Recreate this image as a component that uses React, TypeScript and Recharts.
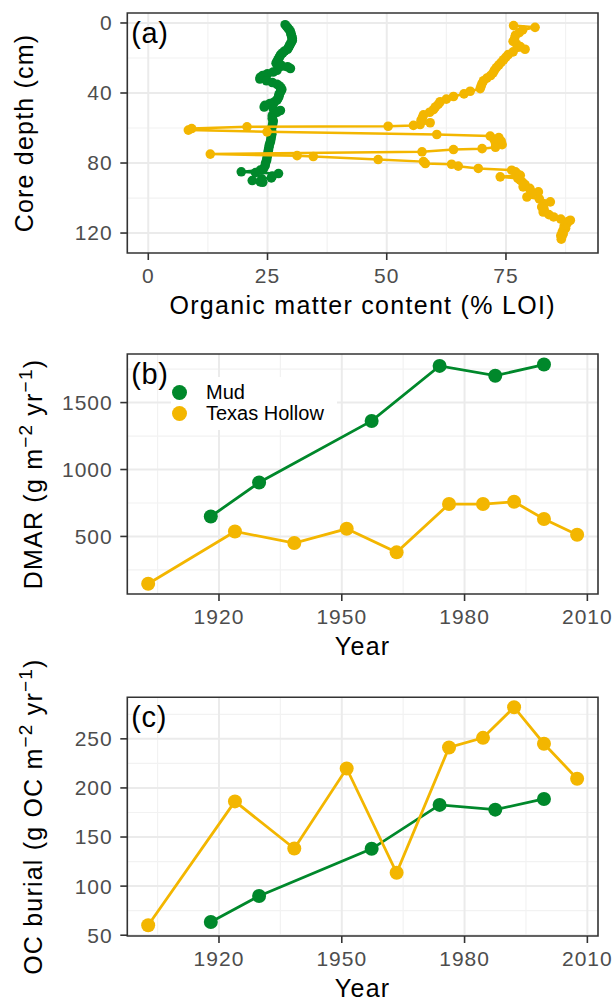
import React from 'react';
import {
  ScatterChart,
  Scatter,
  XAxis,
  YAxis,
  CartesianGrid,
  ReferenceArea,
  Legend,
} from 'recharts';

const GREEN = '#00882b';
const GOLD = '#f3b600';
const FONT = '"Liberation Sans", Arial, Helvetica, sans-serif';

// (a) loss-on-ignition profiles down each core
const mudDepth = [
  1, 2, 3, 4, 5, 6, 7, 8, 9, 10, 11, 12, 13, 14, 15, 16, 17, 18, 19, 20, 21, 22, 23, 24, 25, 26, 27, 28,
  29, 30, 31, 32, 33, 34, 35, 36, 37, 38, 39, 40, 41, 42, 43, 44, 45, 46, 47, 48, 49, 50, 51, 52, 53,
  54.5, 56, 57.5, 59, 60.5, 62, 63.5, 65, 66.5, 68, 69.5, 71, 72.5, 74, 75.5, 77, 78.5, 80, 81.5, 83,
  84, 85, 85.5, 86, 87.5, 88.5, 89, 90, 90.8, 91,
];
const mudLoi = [
  28.7, 29.0, 29.3, 29.6, 29.8, 29.9, 30.0, 30.1, 30.2, 30.2, 30.0, 29.8, 29.6, 29.4, 29.2, 28.6, 28.2,
  27.8, 27.6, 27.4, 27.2, 27.0, 26.8, 27.8, 29.2, 29.8, 27.0, 26.2, 25.0, 24.0, 23.5, 23.4, 24.8, 26.0,
  27.0, 27.5, 27.8, 28.0, 27.8, 27.6, 27.4, 27.4, 27.2, 27.0, 26.5, 25.5, 24.5, 24.3, 26.2, 27.7, 27.0,
  26.3, 26.0, 26.0, 26.2, 26.1, 26.0, 25.8, 25.9, 25.9, 25.8, 25.7, 25.6, 25.4, 25.3, 25.2, 25.1, 25.0,
  24.9, 24.8, 24.6, 24.5, 24.2, 23.5, 19.5, 22.5, 27.3, 26.0, 25.8, 23.8, 21.8, 23.5, 24.0,
];
const texasDepth = [
  1.5, 2.5, 4, 5.5, 7, 9, 10.5, 12, 13.5, 15, 16.5, 18, 19.5, 21, 22.5, 24, 25.5, 27, 28.5, 30, 31.5,
  33, 34.5, 36, 37.5, 39, 40.5, 42, 43.5, 45, 46.5, 48, 49.5, 51, 52.5, 54, 55.5, 57, 58, 58.5, 59,
  59.3, 60.3, 61.2, 62.2, 63.7, 64.6, 65.5, 66.5, 67.5, 68.5, 69.5, 71, 71.8, 72.3, 73.6, 74.9, 75.8,
  76.3, 78, 79.2, 80.3, 80.7, 81.8, 83.1, 84.1, 85, 86, 87, 87.9, 88.8, 89.8, 91, 92.3, 93.6, 94.5,
  95.5, 96.5, 97.5, 99.4, 100.5, 102.2, 103.5, 105.1, 106.5, 108, 109.5, 110.8, 112, 112.7, 113.5,
  114.6, 116, 117.3, 118.4, 119.5, 120.5, 121.5, 122.3, 123.5,
];
const texasLoi = [
  76.6, 81.1, 78.5, 77.8, 77.0, 76.8, 76.5, 77.2, 78.0, 79.0, 76.5, 75.5, 75.0, 74.5, 74.0, 73.5, 73.0,
  72.6, 72.3, 71.8, 71.0, 70.3, 70.0, 69.8, 69.6, 67.5, 66.2, 64.0, 62.5, 61.2, 60.8, 60.2, 59.8, 59.0,
  57.7, 57.5, 57.2, 59.1, 57.0, 55.6, 50.3, 20.7, 9.1, 8.4, 24.9, 60.5, 71.7, 73.5, 72.5, 74.0, 72.8,
  74.2, 72.8, 70.0, 64.0, 57.4, 13.0, 31.2, 34.6, 48.2, 57.7, 58.1, 63.6, 65.0, 69.2, 76.2, 77.0, 77.3,
  78.0, 73.8, 77.5, 78.0, 78.5, 79.0, 78.6, 80.0, 80.1, 81.8, 80.5, 79.4, 82.0, 84.3, 83.0, 82.5, 83.0,
  82.8, 84.0, 85.0, 86.5, 88.5, 88.0, 87.8, 87.2, 87.5, 87.0, 86.8, 87.0, 86.5, 86.7, 86.6,
];

// (b) and (c) dated intervals
const mudYears = [1918, 1929.8, 1957.3, 1973.9, 1987.5, 1999.4];
const mudDmar = [649, 903, 1363, 1774, 1701, 1784];
const mudOcBurial = [63.5, 89.9, 138, 182.7, 177.9, 188.8];
const texasYears = [1902.7, 1923.9, 1938.4, 1951.2, 1963.4, 1976.2, 1984.5, 1992.1, 1999.4, 2007.5];
const texasDmar = [147, 537, 451, 557, 381, 742, 742, 759, 630, 513];
const texasOcBurial = [60.2, 186.3, 138.3, 219.8, 113.6, 241.2, 251, 282.2, 245, 209.4];

const loiTicks = [0, 25, 50, 75];
const loiMinor = [12.5, 37.5, 62.5, 87.5];
const depthTicks = [0, 40, 80, 120];
const depthMinor = [20, 60, 100];
const yearTicks = [1920, 1950, 1980, 2010];
const yearMinor = [1905, 1935, 1965, 1995];
const dmarTicks = [500, 1000, 1500];
const dmarMinor = [250, 750, 1250, 1750];
const ocTicks = [50, 100, 150, 200, 250];
const ocMinor = [75, 125, 175, 225, 275];

const pairs = (xs: number[], ys: number[]) => xs.map((x, i) => ({ x, y: ys[i] }));

const mudProfile = pairs(mudLoi, mudDepth);
const texasProfile = pairs(texasLoi, texasDepth);
const mudDmarRows = pairs(mudYears, mudDmar);
const texasDmarRows = pairs(texasYears, texasDmar);
const mudOcRows = pairs(mudYears, mudOcBurial);
const texasOcRows = pairs(texasYears, texasOcBurial);

const tickStyle = { fill: '#4d4d4d', fontSize: 21, fontFamily: FONT, letterSpacing: 1 };
const tickLine = { stroke: '#333', strokeWidth: 1.6 };

const dot = (r: number, color: string) => (p: any) => (
  <circle cx={p.cx} cy={p.cy} r={r} fill={color} stroke="none" />
);

function XTitle({ viewBox, text }: any) {
  const { x, y, width } = viewBox;
  return (
    <text x={x + width / 2} y={y + 61} textAnchor="middle" fontSize={25} fontFamily={FONT} letterSpacing={1.3} fill="#000">
      {text}
    </text>
  );
}

function YTitle({ viewBox, baseX, children }: any) {
  const cy = viewBox.y + viewBox.height / 2;
  return (
    <text
      x={baseX}
      y={cy}
      transform={`rotate(-90, ${baseX}, ${cy})`}
      textAnchor="middle"
      fontSize={25}
      fontFamily={FONT}
      letterSpacing={1.2}
      fill="#000"
    >
      {children}
    </text>
  );
}

function PanelTag({ viewBox, text }: any) {
  return (
    <text x={viewBox.x + 4} y={viewBox.y + 30} fontSize={29} fontFamily={FONT} letterSpacing={0.6} fill="#000">
      {text}
    </text>
  );
}

function Grid({ xMajor, xMinor, yMajor, yMinor }: any) {
  return (
    <>
      <CartesianGrid stroke="#f2f2f2" strokeWidth={1.2} verticalValues={xMinor} horizontalValues={yMinor} />
      <CartesianGrid stroke="#ebebeb" strokeWidth={2} verticalValues={xMajor} horizontalValues={yMajor} />
    </>
  );
}

const renderLegend = (props: any) => (
  <div style={{ position: 'relative', width: 166, height: 53, background: '#fff', fontFamily: FONT }}>
    {(props.payload || []).map((entry: any, i: number) => (
      <div
        key={entry.value}
        style={{ position: 'absolute', left: 0, top: 4.5 + i * 21, height: 21, display: 'flex', alignItems: 'center' }}
      >
        <span
          style={{ display: 'inline-block', width: 15, height: 15, marginLeft: 0.5, borderRadius: '50%', background: entry.color }}
        />
        <span style={{ marginLeft: 19.5, fontSize: 20, color: '#000', whiteSpace: 'nowrap' }}>{entry.value}</span>
      </div>
    ))}
  </div>
);

const LOI_DOMAIN: [number, number] = [-4.4, 94.3];
const DEPTH_DOMAIN: [number, number] = [-5.7, 131.4];
const YEAR_DOMAIN: [number, number] = [1897.6, 2012.6];
const DMAR_DOMAIN: [number, number] = [70, 1863];
const OC_DOMAIN: [number, number] = [49.2, 292.3];

export default function App() {
  return (
    <div style={{ position: 'absolute', left: 0, top: 0, width: 614, height: 1001, background: '#fff', fontFamily: FONT }}>
      {/* (a) organic matter profiles */}
      <div style={{ position: 'absolute', left: 0, top: 0 }}>
        <ScatterChart width={614} height={330} margin={{ top: 13, right: 16, bottom: 0, left: 0 }}>
          <Grid xMajor={loiTicks} xMinor={loiMinor} yMajor={depthTicks} yMinor={depthMinor} />
          <XAxis
            type="number"
            dataKey="x"
            domain={LOI_DOMAIN}
            ticks={loiTicks}
            interval={0}
            allowDataOverflow
            axisLine={false}
            tickLine={tickLine}
            tickSize={7}
            tickMargin={8.5}
            tick={tickStyle}
            height={77}
            label={<XTitle text="Organic matter content (% LOI)" />}
          />
          <YAxis
            type="number"
            dataKey="y"
            reversed
            domain={DEPTH_DOMAIN}
            ticks={depthTicks}
            interval={0}
            allowDataOverflow
            axisLine={false}
            tickLine={tickLine}
            tickSize={7}
            tickMargin={7.6}
            tick={tickStyle}
            width={127.3}
            label={<YTitle baseX={33}>Core depth (cm)</YTitle>}
          />
          <Scatter name="Mud" data={mudProfile} fill={GREEN} line={{ stroke: GREEN, strokeWidth: 2.5 }} lineType="joint" shape={dot(4.8, GREEN)} isAnimationActive={false} />
          <Scatter name="Texas Hollow" data={texasProfile} fill={GOLD} line={{ stroke: GOLD, strokeWidth: 2.5 }} lineType="joint" shape={dot(4.8, GOLD)} isAnimationActive={false} />
          <ReferenceArea
            x1={LOI_DOMAIN[0]}
            x2={LOI_DOMAIN[1]}
            y1={DEPTH_DOMAIN[0]}
            y2={DEPTH_DOMAIN[1]}
            ifOverflow="visible"
            fill="none"
            stroke="#333"
            strokeWidth={1.6}
            label={<PanelTag text="(a)" />}
          />
        </ScatterChart>
      </div>

      {/* (b) dry mass accumulation rate */}
      <div style={{ position: 'absolute', left: 0, top: 330 }}>
        <ScatterChart width={614} height={330} margin={{ top: 24, right: 16, bottom: 0, left: 0 }}>
          <Grid xMajor={yearTicks} xMinor={yearMinor} yMajor={dmarTicks} yMinor={dmarMinor} />
          <XAxis
            type="number"
            dataKey="x"
            domain={YEAR_DOMAIN}
            ticks={yearTicks}
            interval={0}
            allowDataOverflow
            axisLine={false}
            tickLine={tickLine}
            tickSize={7}
            tickMargin={8.5}
            tick={tickStyle}
            height={66}
            label={<XTitle text="Year" />}
          />
          <YAxis
            type="number"
            dataKey="y"
            domain={DMAR_DOMAIN}
            ticks={dmarTicks}
            interval={0}
            allowDataOverflow
            axisLine={false}
            tickLine={tickLine}
            tickSize={7}
            tickMargin={7.6}
            tick={tickStyle}
            width={127.3}
            label={
              <YTitle baseX={42}>
                DMAR (g m<tspan dy={-10} fontSize={19}>−2</tspan>
                <tspan dy={10}> yr</tspan>
                <tspan dy={-10} fontSize={19}>−1</tspan>
                <tspan dy={10}>)</tspan>
              </YTitle>
            }
          />
          <Scatter name="Mud" data={mudDmarRows} fill={GREEN} line={{ stroke: GREEN, strokeWidth: 2.8 }} lineType="joint" shape={dot(7, GREEN)} isAnimationActive={false} />
          <Scatter name="Texas Hollow" data={texasDmarRows} fill={GOLD} line={{ stroke: GOLD, strokeWidth: 2.8 }} lineType="joint" shape={dot(7, GOLD)} isAnimationActive={false} />
          <ReferenceArea
            x1={YEAR_DOMAIN[0]}
            x2={YEAR_DOMAIN[1]}
            y1={DMAR_DOMAIN[0]}
            y2={DMAR_DOMAIN[1]}
            ifOverflow="visible"
            fill="none"
            stroke="#333"
            strokeWidth={1.6}
            label={<PanelTag text="(b)" />}
          />
          <Legend
            layout="horizontal"
            verticalAlign="middle"
            align="center"
            content={renderLegend}
            wrapperStyle={{ left: 171, top: 47, width: 166, height: 53 }}
          />
        </ScatterChart>
      </div>

      {/* (c) organic carbon burial */}
      <div style={{ position: 'absolute', left: 0, top: 640 }}>
        <ScatterChart width={614} height={361} margin={{ top: 57.3, right: 16, bottom: 0, left: 0 }}>
          <Grid xMajor={yearTicks} xMinor={yearMinor} yMajor={ocTicks} yMinor={ocMinor} />
          <XAxis
            type="number"
            dataKey="x"
            domain={YEAR_DOMAIN}
            ticks={yearTicks}
            interval={0}
            allowDataOverflow
            axisLine={false}
            tickLine={tickLine}
            tickSize={7}
            tickMargin={8.5}
            tick={tickStyle}
            height={65}
            label={<XTitle text="Year" />}
          />
          <YAxis
            type="number"
            dataKey="y"
            domain={OC_DOMAIN}
            ticks={ocTicks}
            interval={0}
            allowDataOverflow
            axisLine={false}
            tickLine={tickLine}
            tickSize={7}
            tickMargin={7.6}
            tick={tickStyle}
            width={127.3}
            label={
              <YTitle baseX={42}>
                OC burial (g OC m<tspan dy={-10} fontSize={19}>−2</tspan>
                <tspan dy={10}> yr</tspan>
                <tspan dy={-10} fontSize={19}>−1</tspan>
                <tspan dy={10}>)</tspan>
              </YTitle>
            }
          />
          <Scatter name="Mud" data={mudOcRows} fill={GREEN} line={{ stroke: GREEN, strokeWidth: 2.8 }} lineType="joint" shape={dot(7, GREEN)} isAnimationActive={false} />
          <Scatter name="Texas Hollow" data={texasOcRows} fill={GOLD} line={{ stroke: GOLD, strokeWidth: 2.8 }} lineType="joint" shape={dot(7, GOLD)} isAnimationActive={false} />
          <ReferenceArea
            x1={YEAR_DOMAIN[0]}
            x2={YEAR_DOMAIN[1]}
            y1={OC_DOMAIN[0]}
            y2={OC_DOMAIN[1]}
            ifOverflow="visible"
            fill="none"
            stroke="#333"
            strokeWidth={1.6}
            label={<PanelTag text="(c)" />}
          />
        </ScatterChart>
      </div>
    </div>
  );
}
